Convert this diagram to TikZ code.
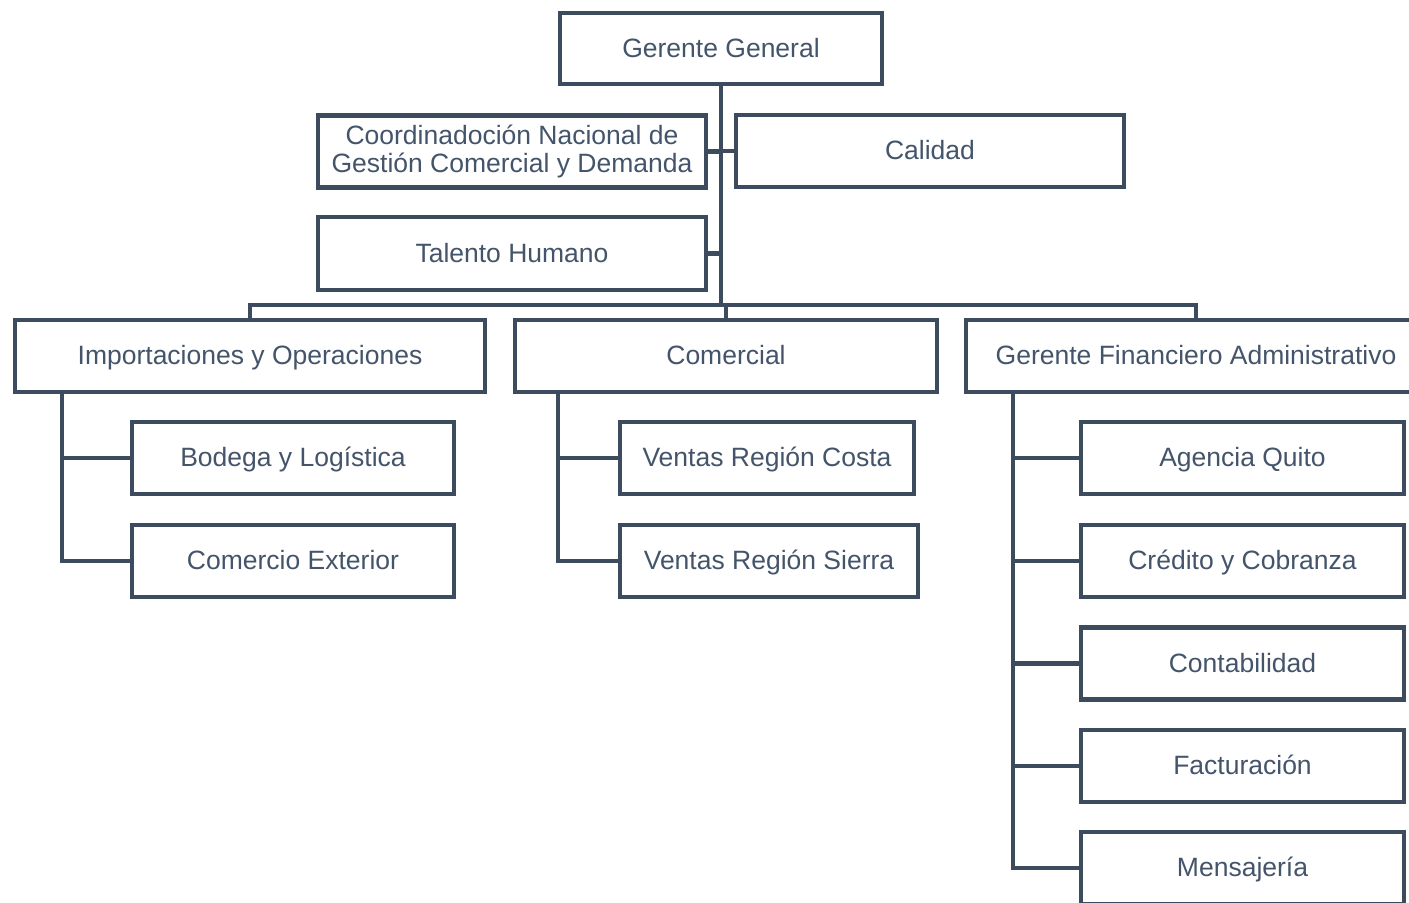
\documentclass[tikz,border=0pt]{standalone}
\usepackage{fontspec}
\setmainfont{Liberation Sans}
\definecolor{linec}{HTML}{3D4B5E}
\definecolor{textc}{HTML}{44546A}
\begin{document}
\begin{tikzpicture}[x=1bp,y=-1bp,
  box/.style={draw=linec, line width=4.6bp, fill=white, inner sep=0pt, align=center,
    text=textc, font=\fontsize{26.6}{28}\selectfont, text height=20bp, text depth=2.5bp},
  box2/.style={box, text height=, text depth=},
  conn/.style={draw=linec, line width=4.6bp}]
\useasboundingbox (0,0) rectangle (1409,902);
\clip (0,0) rectangle (1409,902);
\coordinate (busy) at (0,305);
\coordinate (impx) at (62,0);
\coordinate (comx) at (558,0);
\coordinate (gfax) at (1013,0);
\node[box, minimum width=322bp, minimum height=71bp] (gg) at (721,48.5) {Gerente General};
\node[box2, minimum width=388bp, minimum height=72bp] (coord) at (512,151.5) {Coordinadoción Nacional de\\Gestión Comercial y Demanda};
\node[box, minimum width=388bp, minimum height=72bp] (cal) at (930,151) {Calidad};
\node[box, minimum width=388bp, minimum height=73bp] (th) at (512,253.5) {Talento Humano};
\node[box, minimum width=470bp, minimum height=72bp] (imp) at (250,356) {Importaciones y Operaciones};
\node[box, minimum width=422bp, minimum height=72bp] (com) at (726,356) {Comercial};
\node[box, minimum width=460bp, minimum height=72bp] (gfa) at (1196,356) {Gerente Financiero Administrativo};
\node[box, minimum width=322bp, minimum height=72bp] (bod) at (293,458) {Bodega y Logística};
\node[box, minimum width=322bp, minimum height=72bp] (cex) at (293,561) {Comercio Exterior};
\node[box, minimum width=294bp, minimum height=72bp] (vrc) at (767,458) {Ventas Región Costa};
\node[box, minimum width=298bp, minimum height=72bp] (vrs) at (769,561) {Ventas Región Sierra};
\node[box, minimum width=323bp, minimum height=72bp] (aq) at (1242.5,458) {Agencia Quito};
\node[box, minimum width=323bp, minimum height=72bp] (cyc) at (1242.5,561) {Crédito y Cobranza};
\node[box, minimum width=323bp, minimum height=72bp] (cont) at (1242.5,663.5) {Contabilidad};
\node[box, minimum width=323bp, minimum height=72bp] (fact) at (1242.5,766) {Facturación};
\node[box, minimum width=323bp, minimum height=72bp] (mens) at (1242.5,868) {Mensajería};
% top level
\draw[conn] (gg.south) -- (gg.south |- busy);
\draw[conn] (coord.east) -- (coord.east -| gg.south);
\draw[conn] (cal.west) -- (cal.west -| gg.south);
\draw[conn] (th.east) -- (th.east -| gg.south);
\draw[conn] (imp.north) -- (imp.north |- busy) -- (gfa.north |- busy) -- (gfa.north);
\draw[conn] (com.north) -- (com.north |- busy);
% Importaciones
\draw[conn] (imp.south -| impx) -- (cex.west -| impx) -- (cex.west);
\draw[conn] (bod.west -| impx) -- (bod.west);
% Comercial
\draw[conn] (com.south -| comx) -- (vrs.west -| comx) -- (vrs.west);
\draw[conn] (vrc.west -| comx) -- (vrc.west);
% Financiero
\draw[conn] (gfa.south -| gfax) -- (mens.west -| gfax) -- (mens.west);
\draw[conn] (aq.west -| gfax) -- (aq.west);
\draw[conn] (cyc.west -| gfax) -- (cyc.west);
\draw[conn] (cont.west -| gfax) -- (cont.west);
\draw[conn] (fact.west -| gfax) -- (fact.west);
\end{tikzpicture}
\end{document}
